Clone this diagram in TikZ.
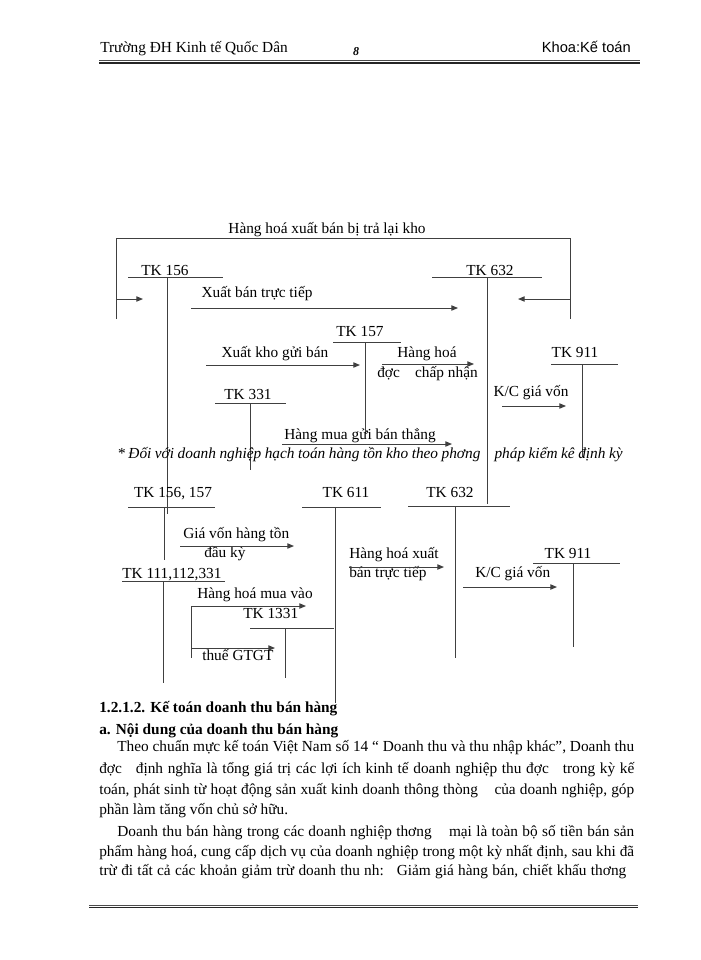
\documentclass[tikz,border=0pt]{standalone}
\usepackage{fontspec}
\setmainfont{Liberation Serif}
\newfontfamily\khoafont{Liberation Sans}
\usetikzlibrary{arrows.meta,backgrounds}

\begin{document}
\begin{tikzpicture}[x=0.75pt,y=-0.75pt,background rectangle/.style={fill=white},show background rectangle,inner frame sep=0pt,
  ln/.style={line width=0.75pt,draw=black!75},
  arr/.style={ln,-{Triangle[length=5pt,width=4pt]}},
  lbl/.style={inner sep=0pt,font=\fontsize{11.5}{14}\selectfont,anchor=base},
  lbll/.style={lbl,anchor=base west}]
  \useasboundingbox (0,0) rectangle (700,960);

  \node[lbll] (truong) at (100,52) {Trường ĐH Kinh tế Quốc Dân};
  \node[lbl,font=\fontsize{9}{10}\selectfont\bfseries\itshape] (trang) at (356,55) {8};
  \node[lbl,anchor=base east,font=\fontsize{11}{13}\selectfont\khoafont] (khoa) at (631,52) {Khoa:Kế toán};
  \draw[line width=0.5pt,black!70] (99,60.5) -- (640,60.5);
  \draw[line width=1.4pt,black!85] (99,63) -- (640,63);

  \draw[ln] (116,319) -- (116,238) -- (570,238) -- (570,319);
  \node[lbl] (tralai) at (327,233) {Hàng hoá\ xuất bán bị trả lại kho};
  \draw[arr] (116,299) -- (143,299);
  \draw[arr] (570,299) -- (518,299);
  \draw[ln] (128,277) -- (223,277) (167,277) -- (167,514);
  \node[lbl] (tk156) at (165,275) {TK 156};
  \draw[ln] (432,277) -- (542,277) (487,277) -- (487,504);
  \node[lbl] (tk632) at (490,275) {TK 632};
  \node[lbl] (xuatban) at (257,297) {Xuất bán trực tiếp};
  \draw[arr] (191,308) -- (458,308);
  \draw[ln] (333,342) -- (401,342) (365,342) -- (365,433);
  \node[lbl] (tk157) at (360,336) {TK 157};
  \node[lbl] (xuatkho) at (275,357) {Xuất kho gửi bán};
  \draw[arr] (206,365) -- (360,365);
  \node[lbl] (hanghoa) at (427,357) {Hàng hoá};
  \node[lbll] (chapnhan) at (377,377) {đợc\ \ \ \ chấp nhận};
  \draw[arr] (382,364) -- (474,364);
  \draw[ln] (551,364) -- (618,364) (582,364) -- (582,457);
  \node[lbl] (tk911) at (575,357) {TK 911};
  \node[lbl] (kc) at (531,396) {K/C giá vốn};
  \draw[arr] (502,406) -- (566,406);
  \draw[ln] (215,403) -- (286,403) (250,403) -- (250,470);
  \node[lbl] (tk331) at (248,399) {TK 331};
  \node[lbl] (hangmua) at (360,439) {Hàng mua gửi bán thẳng};
  \draw[arr] (282,444) -- (452,444);
  \node[lbll] (doivoi) at (117,458) {\itshape\hbox to 379pt{* Đối với doanh nghiệp hạch toán hàng tồn kho theo phơng\ \ \ \ pháp kiểm kê định kỳ}};

  \draw[ln] (128,507) -- (215,507) (164,507) -- (164,560);
  \node[lbl] (tk156b) at (173,497) {TK 156, 157};
  \draw[ln] (302,507) -- (381,507) (335,507) -- (335,703);
  \node[lbl] (tk611) at (346,497) {TK 611};
  \draw[ln] (408,506) -- (510,506) (455,506) -- (455,658);
  \node[lbl] (tk632b) at (450,497) {TK 632};
  \node[lbll] (giavon) at (183,538) {Giá vốn hàng tồn};
  \node[lbll] (dauky) at (204,557) {đầu kỳ};
  \draw[arr] (180,546) -- (294,546);
  \node[lbll] (hhxuat) at (349,558) {Hàng hoá xuất};
  \node[lbll] (bantt) at (349,577) {bán trực tiếp};
  \draw[arr] (349,567) -- (444,567);
  \draw[ln] (533,563) -- (620,563) (573,563) -- (573,647);
  \node[lbl] (tk911b) at (568,558) {TK 911};
  \node[lbll] (kcb) at (475,577) {K/C giá vốn};
  \draw[arr] (463,587) -- (557,587);
  \draw[ln] (122,581) -- (225,581) (163,581) -- (163,683);
  \node[lbll] (tk111) at (122,578) {TK 111,112,331};
  \node[lbll] (muavao) at (197,598) {Hàng hoá\ mua vào};
  \draw[arr] (191,606) -- (306,606);
  \draw[ln] (191,606) -- (191,658);
  \draw[arr] (191,648) -- (275,648);
  \node[lbll] (thue) at (202,660) {thuế GTGT};
  \draw[ln] (250,628) -- (334,628) (285,628) -- (285,678);
  \node[lbll] (tk1331) at (243,618) {TK 1331};

  \node[lbll,font=\fontsize{11.5}{14}\selectfont\bfseries] (muc) at (99,712) {1.2.1.2. Kế toán doanh thu bán hàng};
  \node[lbll,font=\fontsize{11.5}{14}\selectfont\bfseries] (muca) at (99,734) {a. Nội dung của doanh thu bán hàng};
  \node[lbll] (p1) at (117,751) {\hbox to 387.75pt{Theo chuẩn mực kế toán Việt Nam số 14 “ Doanh thu và thu nhập khác”, Doanh thu}};
  \node[lbll] (p2) at (99,773) {\hbox to 401.25pt{đợc\ \ \ định nghĩa là tổng giá trị các lợi ích kinh tế doanh nghiệp thu đợc\ \ \ trong kỳ kế}};
  \node[lbll] (p3) at (99,794) {\hbox to 401.25pt{toán, phát sinh từ hoạt động sản xuất kinh doanh thông thòng\ \ \ \ của doanh nghiệp, góp}};
  \node[lbll] (p4) at (99,814) {phần làm tăng vốn chủ sở hữu.};
  \node[lbll] (p5) at (117,836) {\hbox to 387.75pt{Doanh thu bán hàng trong các doanh nghiệp thơng\ \ \ \ mại là toàn bộ số tiền bán sản}};
  \node[lbll] (p6) at (99,856) {\hbox to 401.25pt{phẩm hàng hoá, cung cấp dịch vụ của doanh nghiệp trong một kỳ nhất định, sau khi đã}};
  \node[lbll] (p7) at (99,875) {\hbox to 395.25pt{trừ đi tất cả các khoản giảm trừ doanh thu nh:\ \ \ Giảm giá hàng bán, chiết khấu thơng}};

  \draw[line width=0.5pt,black!70] (89,905) -- (638,905);
  \draw[line width=1.4pt,black!85] (89,907.5) -- (638,907.5);

\end{tikzpicture}
\end{document}
